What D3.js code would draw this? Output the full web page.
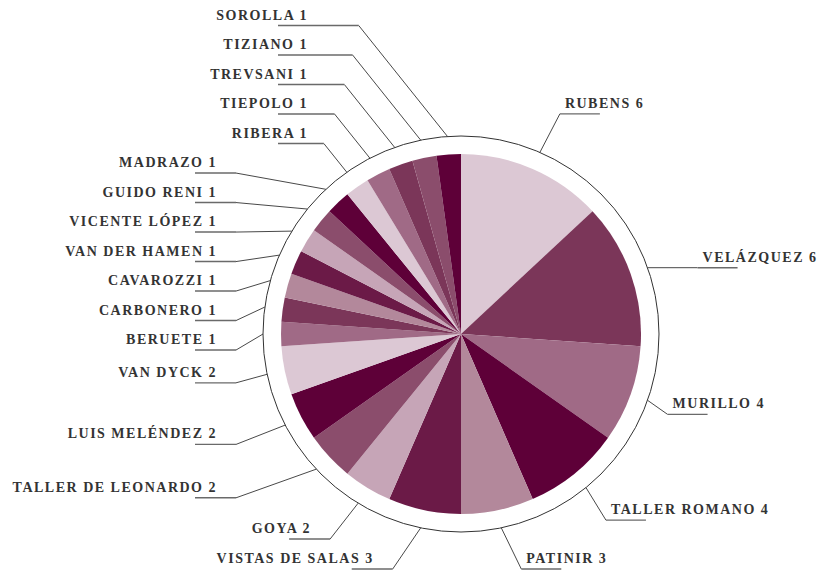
<!DOCTYPE html>
<html>
<head>
<meta charset="utf-8">
<script src="https://cdnjs.cloudflare.com/ajax/libs/d3/7.8.5/d3.min.js"></script>
<style>
	body { margin: 0; background: #fff; }
	svg { display: block; }
	.label { font-family: 'Liberation Serif', serif; font-size: 14px; font-weight: bold; letter-spacing: 1.5px; fill: #333; }
	.ring { fill: none; stroke: #333; stroke-width: 1; }
	.leader { fill: none; stroke: #333; stroke-width: 0.9; }
	.underline { stroke: #6a6a6a; stroke-width: 1.4; }
</style>
</head>
<body>
<div id="chart"></div>
<script>
//----
//Data
//----
var artists = ['Rubens', 'Velázquez', 'Murillo', 'Taller Romano', 'Patinir', 'Vistas de Salas',
	'Goya', 'Taller de Leonardo', 'Luis Meléndez', 'Van Dyck', 'Beruete', 'Carbonero',
	'Cavarozzi', 'Van der Hamen', 'Vicente López', 'Guido Reni', 'Madrazo', 'Ribera',
	'Tiepolo', 'Trevsani', 'Tiziano', 'Sorolla']
var counts = [6, 6, 4, 4, 3, 3, 2, 2, 2, 2, 1, 1, 1, 1, 1, 1, 1, 1, 1, 1, 1, 1]
var palette = ['#dcc8d4', '#7b3659', '#a06a86', '#5e0038', '#b3889b', '#6b1a47',
	'#c6a5b7', '#8b4d6c', '#5e0038', '#dcc8d4', '#a06a86', '#7b3659',
	'#b3889b', '#6b1a47', '#c6a5b7', '#8b4d6c', '#5e0038', '#dcc8d4',
	'#a06a86', '#7b3659', '#8b4d6c', '#5e0038']

//------
//Config
//------
var _width = 823,
	_height = 587
var _config = {
	'cx' : 461,
	'cy' : 334,
	'pieRadius' : 180,
	'ringRadius' : 198,
	'labelRadius' : 240,
	'labelGap' : 29.5,
	'lineLength' : 41
}

var _data = artists.map(function(a, i){ return { name: a, value: counts[i] } })

var _color = d3.scaleOrdinal().domain(artists).range(palette)

var _pie = d3.pie().sort(null).value(function(d){ return d.value })
var _arc = d3.arc().innerRadius(0).outerRadius(_config.pieRadius)

var _svg = d3.select('#chart').append('svg')
	.attr('width', _width)
	.attr('height', _height)

var _g = _svg.append('g')
	.attr('transform', 'translate(' + _config.cx + ',' + _config.cy + ')')

var _arcs = _pie(_data)

//Slices
_g.selectAll('path.slice').data(_arcs)
	.enter().append('path')
	.classed('slice', true)
	.attr('d', _arc)
	.attr('fill', function(d){ return _color(d.data.name) })

//Outer ring
_g.append('circle').classed('ring', true).attr('r', _config.ringRadius)

//----------------
//Label positions
//----------------
_arcs.forEach(function(d){
	var mid = (d.startAngle + d.endAngle) / 2
	d.mid = mid
	d.right = Math.sin(mid) > 0
	//point on the ring
	d.px = Math.sin(mid) * _config.ringRadius
	d.py = -Math.cos(mid) * _config.ringRadius
	//natural label height
	d.ly = -Math.cos(mid) * _config.labelRadius
})

//push labels apart on each side
function _relax(list){
	list.sort(function(a, b){ return a.ly - b.ly })
	for ( var it = 0; it < 400; it++ ){
		for ( var i = 0; i < list.length - 1; i++ ){
			var gap = list[i+1].ly - list[i].ly
			if ( gap < _config.labelGap ){
				var shift = (_config.labelGap - gap) / 2
				list[i].ly -= shift
				list[i+1].ly += shift
			}
		}
	}
}
_relax(_arcs.filter(function(d){ return d.right }))
_relax(_arcs.filter(function(d){ return !d.right }))

var ringTop = -_config.ringRadius
_arcs.forEach(function(d){
	if ( d.right ){
		//flat leader when the label sits just above the ring point
		if ( d.ly < d.py && d.py - d.ly < 20 ){
			d.ly = d.py
			d.ex = d.px + 50
		}
		else {
			d.ex = d.px + 20
		}
		d.ox = d.ex + _config.lineLength - 1
		d.tx = d.ex + 5
		d.anchor = 'start'
	}
	else if ( d.ly < ringTop + 12 ){
		//labels stacked above the pie
		d.ex = d.px - 0.8 * (d.py - d.ly)
		d.ox = -183
		d.tx = d.ox + 30
		d.anchor = 'end'
	}
	else if ( d.ly > _config.ringRadius * 0.95 ){
		//labels under the pie
		d.ex = d.px - 28
		d.ox = d.ex - _config.lineLength
		d.tx = d.ox + 22
		d.anchor = 'end'
	}
	else {
		//column on the left
		d.ex = -225
		d.ox = d.ex - _config.lineLength
		d.tx = d.ox + 22
		d.anchor = 'end'
	}
})

//Leader lines
var _gLabels = _g.append('g').attr('id', 'g-labels')

_gLabels.selectAll('path.leader').data(_arcs)
	.enter().append('path')
	.classed('leader', true)
	.attr('d', function(d){
		return 'M' + d.px + ',' + d.py + 'L' + d.ex + ',' + d.ly
	})

_gLabels.selectAll('line.underline').data(_arcs)
	.enter().append('line')
	.classed('underline', true)
	.attr('x1', function(d){ return d.ex })
	.attr('y1', function(d){ return d.ly })
	.attr('x2', function(d){ return d.ox })
	.attr('y2', function(d){ return d.ly })

_gLabels.selectAll('text.label').data(_arcs)
	.enter().append('text')
	.classed('label', true)
	.attr('x', function(d){ return d.tx })
	.attr('y', function(d){ return Math.min(d.ly - 6, _height - _config.cy - 12) })
	.attr('text-anchor', function(d){ return d.anchor })
	.text(function(d){ return d.data.name.toUpperCase() + ' ' + d.data.value })
</script>
</body>
</html>
